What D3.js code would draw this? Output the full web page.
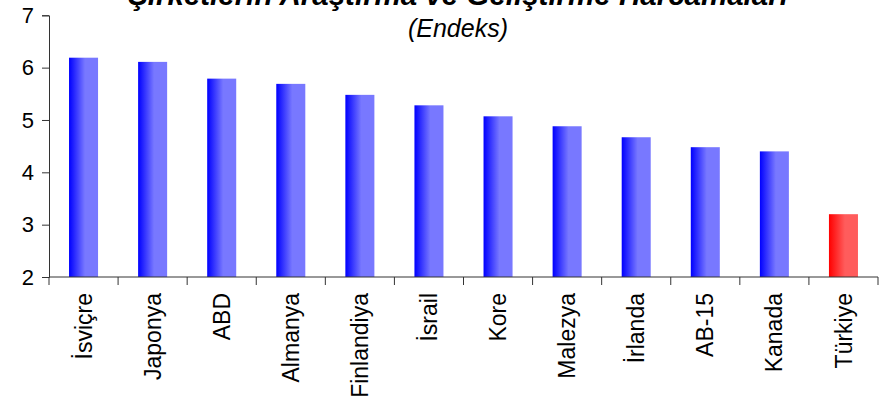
<!DOCTYPE html>
<html><head><meta charset="utf-8">
<script src="https://cdn.jsdelivr.net/npm/d3@7"></script>
<style>body{margin:0;background:#fff}svg{display:block}</style>
</head><body><svg id="c" width="886" height="401"></svg>
<script>
const categories = ["İsviçre","Japonya","ABD","Almanya","Finlandiya","İsrail","Kore","Malezya","İrlanda","AB-15","Kanada","Türkiye"];
const values = [6.19, 6.11, 5.79, 5.69, 5.48, 5.28, 5.07, 4.88, 4.67, 4.48, 4.40, 3.20];
const highlight = ["Türkiye"];
const yTicks = [2,3,4,5,6,7];
const titleLines = ["Şirketlerin Araştırma ve Geliştirme Harcamaları", "(Endeks)"];

const svg = d3.select("#c");
const font = "'Liberation Sans', Arial, sans-serif";
const m = {left:49, right:878, top:15.3, bottom:277};

const x = d3.scaleBand().domain(categories).range([m.left, m.right]).padding(0);
const y = d3.scaleLinear().domain([2,7]).range([m.bottom, m.top]);

const defs = svg.append("defs");
function grad(id, c0, c1){
  const g = defs.append("linearGradient").attr("id", id).attr("x1","0").attr("x2","1").attr("y1","0").attr("y2","0");
  g.append("stop").attr("offset","0").attr("stop-color", c0);
  g.append("stop").attr("offset","0.55").attr("stop-color", c1);
  g.append("stop").attr("offset","1").attr("stop-color", c1);
}
grad("gb", "#0000ff", "#7878ff");
grad("gr", "#ff0000", "#ff5c5c");

const bw = x.bandwidth()*0.42;
svg.append("g").selectAll("rect").data(categories).join("rect")
  .attr("x", d => x(d) + x.bandwidth()/2 - bw/2)
  .attr("width", bw)
  .attr("y", (d,i) => y(values[i]))
  .attr("height", (d,i) => y(2) - y(values[i]))
  .attr("fill", d => highlight.includes(d) ? "url(#gr)" : "url(#gb)");

// y axis
const yAxis = svg.append("g").attr("transform", `translate(${m.left},0)`)
  .call(d3.axisLeft(y).tickValues(yTicks).tickSize(7).tickPadding(8).tickFormat(d3.format("d")));
yAxis.select(".domain").attr("stroke","#333");
yAxis.selectAll(".tick line").attr("stroke","#333");
yAxis.selectAll("text").attr("font-family", font).attr("font-size", 22).attr("fill","#000");

// x axis with boundary ticks
const xg = svg.append("g").attr("transform", `translate(0,${m.bottom})`);
xg.append("line").attr("x1", m.left).attr("x2", m.right).attr("stroke","#333");
const bounds = categories.map(c => x(c)).concat([x(categories[categories.length-1]) + x.bandwidth()]);
xg.selectAll("line.t").data(bounds).join("line").attr("class","t")
  .attr("x1", d=>d).attr("x2", d=>d).attr("y1",0).attr("y2",8).attr("stroke","#333");
xg.selectAll("text").data(categories).join("text")
  .attr("transform", d => `translate(${x(d)+x.bandwidth()/2},16) rotate(-90)`)
  .attr("text-anchor","end").attr("dy","0.35em")
  .attr("font-family", font).attr("font-size", 23).attr("fill","#000")
  .text(d => d);

// title
svg.append("text").attr("x", 458).attr("y", 5).attr("text-anchor","middle")
  .attr("font-family", font).attr("font-size", 29.5).attr("font-weight","bold").attr("font-style","italic")
  .text(titleLines[0]);
svg.append("text").attr("x", 458).attr("y", 37).attr("text-anchor","middle")
  .attr("font-family", font).attr("font-size", 25).attr("font-style","italic")
  .text(titleLines[1]);
</script></body></html>
